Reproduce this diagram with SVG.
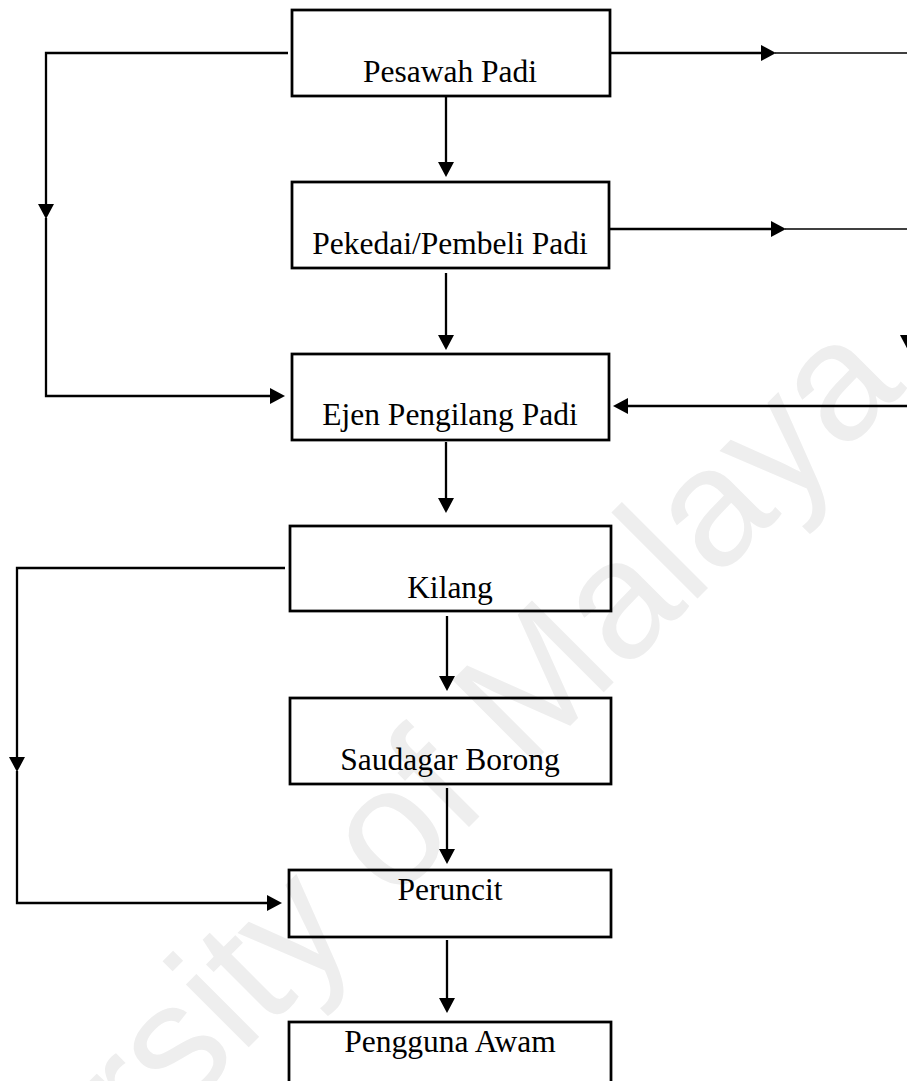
<svg xmlns="http://www.w3.org/2000/svg" width="907" height="1081" viewBox="0 0 907 1081">
<style>
.box{fill:none;stroke:#000;stroke-width:2.75}
.lbl{font-family:"Liberation Serif","Times New Roman",serif;font-size:31.5px;fill:#000;text-anchor:middle}
.c{fill:none;stroke:#000;stroke-width:2.3}
.t{fill:none;stroke:#000;stroke-width:1.3}
.wm{font-family:"Liberation Sans",Arial,sans-serif;font-size:168px;fill:#eeeeee}
</style>
<defs>
<marker id="ah" markerUnits="userSpaceOnUse" markerWidth="17" markerHeight="17" refX="0" refY="8" orient="auto" overflow="visible">
<path d="M0,0 L15,8 L0,16 z" fill="#000"/>
</marker>
</defs>
<rect width="907" height="1081" fill="#fff"/>
<text class="wm" transform="translate(-162,1458) rotate(-45)">University of Malaya</text>
<g id="connectors">
<path class="c" d="M288,53 H46 V204" marker-end="url(#ah)"/>
<path class="c" d="M46,218 V396 H270" marker-end="url(#ah)"/>
<path class="c" d="M446,96 V162" marker-end="url(#ah)"/>
<path class="c" d="M446,273 V335" marker-end="url(#ah)"/>
<path class="c" d="M446,442 V498" marker-end="url(#ah)"/>
<path class="c" d="M447,616 V676" marker-end="url(#ah)"/>
<path class="c" d="M447,788 V849" marker-end="url(#ah)"/>
<path class="c" d="M447,940 V998" marker-end="url(#ah)"/>
<path class="c" d="M610,53 H761" marker-end="url(#ah)"/>
<path class="t" d="M775,53 H907"/>
<path class="c" d="M609,229 H771" marker-end="url(#ah)"/>
<path class="t" d="M785,229 H907"/>
<path class="c" d="M907,406 H628" marker-end="url(#ah)"/>
<polygon points="900,335 916,335 908,350" fill="#000"/>
<path class="c" d="M285,568 H17 V757" marker-end="url(#ah)"/>
<path class="c" d="M17,771 V903 H267" marker-end="url(#ah)"/>
</g>
<g id="node-pesawah"><rect class="box" x="292" y="10" width="318" height="86"/><text class="lbl" x="450" y="82">Pesawah Padi</text></g>
<g id="node-pekedai"><rect class="box" x="292" y="182" width="317" height="86"/><text class="lbl" x="450" y="254">Pekedai/Pembeli Padi</text></g>
<g id="node-ejen"><rect class="box" x="292" y="354" width="317" height="86"/><text class="lbl" x="450" y="425">Ejen Pengilang Padi</text></g>
<g id="node-kilang"><rect class="box" x="290" y="526" width="321" height="85"/><text class="lbl" x="450" y="598">Kilang</text></g>
<g id="node-saudagar"><rect class="box" x="290" y="698" width="321" height="86"/><text class="lbl" x="450" y="770">Saudagar Borong</text></g>
<g id="node-peruncit"><rect class="box" x="289" y="870" width="322" height="67"/><text class="lbl" x="450" y="900">Peruncit</text></g>
<g id="node-pengguna"><rect class="box" x="289" y="1022" width="322" height="80"/><text class="lbl" x="450" y="1052">Pengguna Awam</text></g>
</svg>
